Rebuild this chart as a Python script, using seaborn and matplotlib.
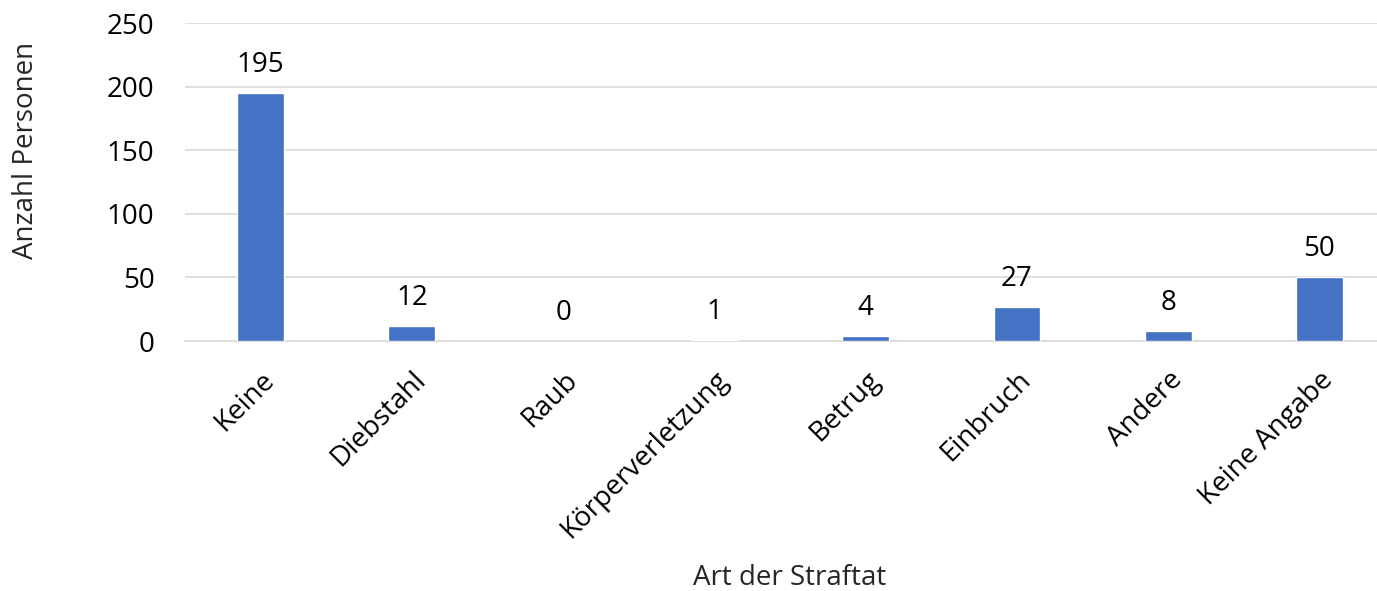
import seaborn as sns
import matplotlib.pyplot as plt
import pandas as pd

# Data
categories = ['Keine', 'Diebstahl', 'Raub', 'Körperverletzung', 'Betrug',
              'Einbruch', 'Andere', 'Keine Angabe']
counts = [195, 12, 0, 1, 4, 27, 8, 50]
y_ticks = [0, 50, 100, 150, 200, 250]

df = pd.DataFrame({'Art': categories, 'Anzahl': counts})

sns.set_style('white')
plt.rcParams['font.family'] = ['Open Sans', 'DejaVu Sans']
plt.rcParams['text.color'] = 'black'

fig = plt.figure(figsize=(13.77, 5.91), dpi=100)
ax = fig.add_axes([185 / 1377, 1 - 341 / 591, 1 - 185 / 1377, (341 - 23) / 591])

sns.barplot(data=df, x='Art', y='Anzahl', color='#4472C4', width=0.31,
            saturation=1, ax=ax, zorder=3)

ax.set_ylim(0, 250)
ax.set_yticks(y_ticks)
ax.set_xlim(-0.5, 7.38)
ax.grid(axis='y', color='#d9d9d9', linewidth=1.2, zorder=0)
for s in ['top', 'right', 'left']:
    ax.spines[s].set_visible(False)
ax.spines['bottom'].set_color('#d9d9d9')
ax.spines['bottom'].set_linewidth(1.2)
ax.tick_params(axis='both', length=0, labelsize=20, colors='black')
ax.tick_params(axis='y', pad=22)
ax.tick_params(axis='x', pad=18)

ax.set_xticks(range(len(categories)))
ax.set_xticklabels(categories, rotation=45, ha='right', rotation_mode='anchor')

for i, v in enumerate(counts):
    ax.text(i, v + 11, str(v), ha='center', va='bottom', fontsize=20)

ax.set_xlabel('Art der Straftat', fontsize=20)
ax.set_ylabel('Anzahl Personen', fontsize=20)
ax.xaxis.set_label_coords(0.5075, -0.70)
ax.yaxis.set_label_coords(-0.122, 0.60)

fig.savefig('out.png', dpi=100)
